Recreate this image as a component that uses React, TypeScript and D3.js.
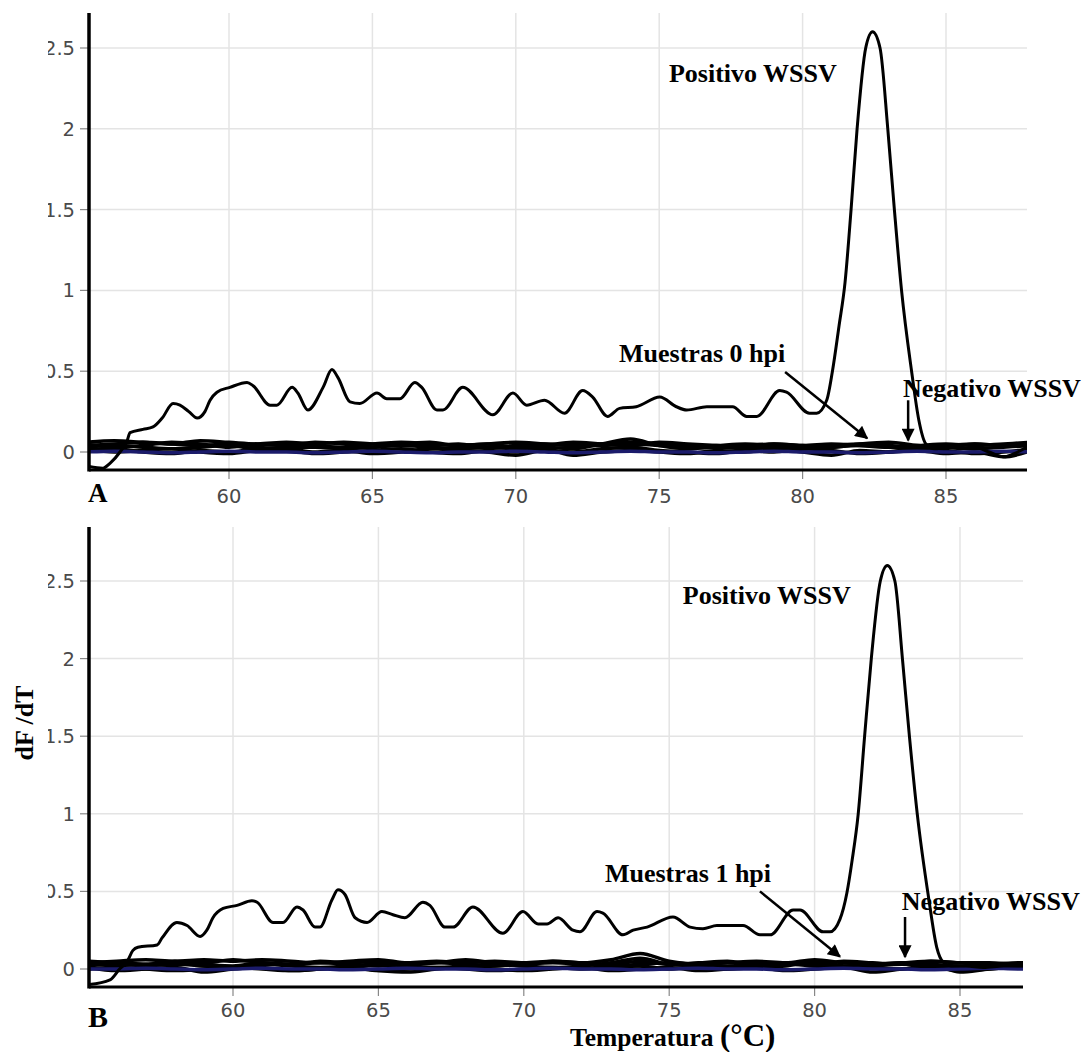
import React from 'react';
import * as d3 from 'd3';

// ---- data -------------------------------------------------------------

const X_TICKS = [60, 65, 70, 75, 80, 85];
const Y_TICKS = [0, 0.5, 1, 1.5, 2, 2.5];
const Y_TICK_LABELS = ['0', '0.5', '1', '1.5', '2', '2.5'];

// temperature grid (°C) for the baseline traces
const TEMP_GRID = [55, 56, 57, 58, 59, 60, 61, 62, 63, 64, 65, 66, 67, 68, 69, 70, 71,
  72, 73, 74, 75, 76, 77, 78, 79, 80, 81, 82, 83, 84, 85, 86, 87, 88];

// Panel A: positive control melt curve
const POS_A_T = [55.12, 55.6, 55.85, 56.2, 56.45, 56.55, 57.0, 57.35, 57.67, 58.05, 58.29, 58.6,
  58.89, 59.16, 59.34, 59.58, 60.03, 60.63, 60.84, 61.43, 61.67, 62.2, 62.4, 62.75, 63.28, 63.59,
  63.8, 64.22, 64.56, 65.16, 65.5, 65.96, 66.48, 66.72, 67.25, 67.46, 68.15, 69.2, 69.9, 70.38,
  71.0, 71.7, 72.33, 72.68, 73.2, 73.62, 74.2, 75.02, 75.6, 75.96, 76.66, 77.56, 78.05, 78.4,
  79.2, 79.44, 80.24, 80.49, 80.84, 81.04, 81.27, 81.48, 81.69, 81.9, 82.2, 82.44,
  82.7, 82.97, 83.2, 83.45, 83.8, 84.05, 84.3, 84.6, 85.0, 85.5, 86.0, 86.5,
  87.0, 87.5, 87.82];
const POS_A_V = [-0.09, -0.1, -0.07, 0.0, 0.07, 0.12, 0.14, 0.155, 0.21, 0.3, 0.29, 0.25,
  0.21, 0.25, 0.32, 0.37, 0.4, 0.43, 0.41, 0.29, 0.29, 0.4, 0.365, 0.26, 0.4, 0.51,
  0.46, 0.31, 0.3, 0.365, 0.33, 0.33, 0.43, 0.4, 0.26, 0.26, 0.4, 0.23, 0.365, 0.29,
  0.32, 0.24, 0.38, 0.34, 0.22, 0.27, 0.28, 0.34, 0.28, 0.26, 0.28, 0.28, 0.22, 0.22,
  0.38, 0.37, 0.24, 0.24, 0.32, 0.5, 0.78, 1.05, 1.5, 2.0, 2.5, 2.6,
  2.5, 2.0, 1.5, 1.0, 0.5, 0.2, 0.05, 0.02, 0.03, 0.02, 0.03, 0.0,
  -0.03, 0.0, 0.03];

// Panel A: 0 hpi samples and negative control
const A_S1 = [0.04, 0.05, 0.06, 0.05, 0.04, 0.05, 0.04, 0.05, 0.04, 0.03, 0.05, 0.04, 0.04, 0.05,
  0.03, 0.04, 0.05, 0.04, 0.04, 0.05, 0.04, 0.03, 0.04, 0.05, 0.04, 0.03, 0.04, 0.05, 0.04, 0.03,
  0.04, 0.05, 0.04, 0.05];
const A_S2 = [0.01, 0.02, 0.0, -0.01, 0.01, 0.0, 0.02, 0.01, -0.01, 0.0, 0.01, 0.02, 0.0, -0.01,
  0.01, 0.0, 0.02, -0.02, 0.0, 0.01, 0.0, -0.01, 0.01, 0.0, 0.02, 0.0, -0.02, 0.01, 0.0, 0.01,
  -0.01, 0.0, -0.03, 0.01];
const A_S3 = [0.03, 0.04, 0.03, 0.02, 0.03, 0.04, 0.02, 0.03, 0.03, 0.02, 0.03, 0.04, 0.03, 0.02,
  0.03, 0.02, 0.03, 0.02, 0.05, 0.08, 0.04, 0.02, 0.03, 0.02, 0.03, 0.02, 0.03, 0.04, 0.03, 0.02,
  0.03, 0.02, 0.03, 0.04];
const A_S4 = [0.06, 0.07, 0.06, 0.05, 0.07, 0.06, 0.05, 0.06, 0.05, 0.06, 0.05, 0.06, 0.05, 0.04,
  0.05, 0.06, 0.05, 0.04, 0.05, 0.06, 0.05, 0.04, 0.03, 0.04, 0.05, 0.04, 0.05, 0.04, 0.03, 0.04,
  0.05, 0.04, 0.05, 0.06];
const A_S5 = [0.05, 0.03, 0.04, 0.06, 0.05, 0.03, 0.05, 0.04, 0.06, 0.05, 0.03, 0.05, 0.06, 0.04,
  0.05, 0.03, 0.04, 0.06, 0.05, 0.04, 0.06, 0.05, 0.04, 0.03, 0.05, 0.04, 0.03, 0.05, 0.06, 0.04,
  0.03, 0.05, 0.04, 0.05];
const A_S6 = [0.02, 0.0, 0.01, 0.02, 0.0, -0.01, 0.01, 0.02, 0.0, 0.01, -0.01, 0.0, 0.02, 0.01,
  0.0, -0.02, 0.01, 0.0, 0.02, 0.03, 0.01, 0.0, -0.01, 0.01, 0.0, 0.02, 0.01, -0.01, 0.0, 0.02,
  0.01, -0.01, 0.0, 0.02];
const A_NEG = [0.0, 0.005, 0.0, -0.005, 0.0, 0.005, 0.0, 0.0, -0.005, 0.0, 0.005, 0.0, -0.005, 0.0,
  0.0, 0.005, 0.0, -0.005, 0.0, 0.005, 0.0, 0.0, -0.005, 0.0, 0.005, 0.0, 0.0, -0.005, 0.0, 0.005,
  0.0, 0.0, 0.005, 0.0];

// Panel B: positive control melt curve
const POS_B_T = [55.05, 55.77, 56.1, 56.35, 56.56, 56.73, 57.39, 57.56, 58.07, 58.42, 58.87, 59.1,
  59.31, 59.66, 60.14, 60.65, 60.83, 61.38, 61.72, 62.2, 62.41, 62.82, 62.99, 63.4, 63.61, 63.85,
  64.2, 64.61, 65.12, 65.5, 65.91, 66.53, 66.77, 67.29, 67.57, 68.25, 69.28, 69.97, 70.49, 70.8,
  71.18, 71.69, 71.93, 72.52, 72.72, 73.41, 73.76, 74.24, 75.13, 75.72, 76.16, 76.64, 77.54, 78.12,
  78.47, 79.26, 79.5, 80.29, 80.53, 80.87, 81.11, 81.29, 81.5, 81.72, 81.95, 82.26, 82.5,
  82.76, 83.02, 83.26, 83.53, 83.92, 84.2, 84.42, 84.7, 85.2, 85.8, 86.5,
  87.17];
const POS_B_V = [-0.1, -0.07, 0.0, 0.045, 0.12, 0.14, 0.155, 0.2, 0.3, 0.28, 0.21, 0.25,
  0.33, 0.39, 0.41, 0.44, 0.43, 0.3, 0.3, 0.4, 0.38, 0.27, 0.27, 0.445, 0.51, 0.48,
  0.33, 0.3, 0.37, 0.35, 0.33, 0.43, 0.41, 0.27, 0.27, 0.4, 0.23, 0.37, 0.29, 0.29,
  0.33, 0.25, 0.24, 0.37, 0.36, 0.22, 0.25, 0.27, 0.335, 0.27, 0.26, 0.28, 0.28, 0.22,
  0.22, 0.38, 0.38, 0.24, 0.24, 0.32, 0.49, 0.7, 1.0, 1.5, 2.0, 2.5, 2.6,
  2.5, 2.0, 1.5, 1.0, 0.46, 0.14, 0.045, 0.02, 0.02, 0.01, 0.02,
  0.02];

// Panel B: 1 hpi samples and negative control
const B_S1 = [0.04, 0.05, 0.06, 0.05, 0.06, 0.05, 0.06, 0.05, 0.04, 0.05, 0.06, 0.04, 0.05, 0.04,
  0.05, 0.04, 0.05, 0.04, 0.06, 0.1, 0.05, 0.03, 0.04, 0.05, 0.04, 0.06, 0.04, 0.03, 0.04, 0.05,
  0.04, 0.04, 0.03, 0.03];
const B_S2 = [0.02, 0.03, 0.02, 0.03, 0.02, 0.01, 0.03, 0.02, 0.01, 0.02, 0.03, 0.02, 0.01, 0.02,
  0.03, 0.02, 0.01, 0.02, 0.04, 0.07, 0.03, 0.02, 0.01, 0.02, 0.03, 0.02, 0.01, 0.02, 0.03, 0.02,
  0.01, 0.02, 0.02, 0.02];
const B_S3 = [0.0, 0.01, 0.0, -0.01, 0.0, 0.01, 0.0, -0.01, 0.0, 0.01, -0.01, 0.0, 0.01, 0.0,
  -0.01, 0.0, 0.01, 0.0, 0.01, 0.02, 0.0, 0.01, 0.0, 0.01, 0.02, 0.05, 0.02, 0.01, 0.0, 0.03,
  -0.02, 0.0, 0.01, 0.0];
const B_S4 = [0.03, 0.04, 0.03, 0.04, 0.03, 0.02, 0.04, 0.03, 0.04, 0.03, 0.02, 0.03, 0.04, 0.03,
  0.02, 0.03, 0.04, 0.03, 0.02, 0.03, 0.04, 0.03, 0.02, 0.03, 0.04, 0.03, 0.02, 0.03, 0.04, 0.03,
  0.02, 0.03, 0.03, 0.03];
const B_S5 = [0.05, 0.04, 0.03, 0.05, 0.04, 0.06, 0.04, 0.03, 0.05, 0.04, 0.05, 0.03, 0.04, 0.06,
  0.04, 0.03, 0.05, 0.04, 0.03, 0.05, 0.03, 0.04, 0.05, 0.03, 0.04, 0.03, 0.05, 0.04, 0.03, 0.05,
  0.04, 0.03, 0.04, 0.04];
const B_S6 = [0.01, -0.01, 0.0, 0.01, -0.02, 0.0, 0.01, -0.01, 0.0, 0.01, -0.01, -0.02, 0.0, 0.01,
  0.0, -0.01, 0.0, 0.01, -0.01, 0.0, 0.01, -0.01, 0.0, 0.01, -0.01, 0.0, 0.01, -0.02, 0.0, 0.01,
  -0.01, 0.0, 0.01, 0.0];
const B_NEG = [0.0, 0.0, 0.005, 0.0, -0.005, 0.0, 0.005, 0.0, 0.0, -0.005, 0.0, 0.005, 0.0, 0.0,
  -0.005, 0.0, 0.005, 0.0, 0.0, -0.005, 0.0, 0.005, 0.0, 0.0, -0.005, 0.0, 0.005, 0.0, 0.0, -0.005,
  0.0, 0.005, 0.0, 0.0];

// ---- styling ----------------------------------------------------------

const SERIF = "'Liberation Serif', 'Times New Roman', serif";
const SANS = "'DejaVu Sans', Verdana, sans-serif";
const GRID = '#e4e4e4';
const NAVY = '#1b1b6b';

type Ann = { text: string; t: number; v: number };
type Arrow = { t1: number; v1: number; t2: number; v2: number };

type PanelCfg = {
  key: string;
  left: number; right: number; top: number; bottom: number;
  x60: number; x85: number; y0: number; y25: number;
  tickBaseline: number;
  letter: string; letterY: number; letterSize: number;
  posT: number[]; posV: number[];
  samples: number[][]; neg: number[];
  labels: Ann[]; arrows: Arrow[];
};

const PANELS: PanelCfg[] = [
  {
    key: 'A', left: 89, right: 1027, top: 13, bottom: 470,
    x60: 229, x85: 946, y0: 452, y25: 48, tickBaseline: 503,
    letter: 'A', letterY: 502, letterSize: 27,
    posT: POS_A_T, posV: POS_A_V,
    samples: [A_S4, A_S5, A_S1, A_S3, A_S6, A_S2], neg: A_NEG,
    labels: [
      { text: 'Positivo WSSV', t: 75.34, v: 2.29 },
      { text: 'Muestras 0 hpi', t: 73.6, v: 0.557 },
      { text: 'Negativo WSSV', t: 83.5, v: 0.34 },
    ],
    arrows: [
      { t1: 79.39, v1: 0.495, t2: 82.25, v2: 0.085 },
      { t1: 83.68, v1: 0.32, t2: 83.68, v2: 0.072 },
    ],
  },
  {
    key: 'B', left: 89, right: 1023, top: 527, bottom: 987,
    x60: 233, x85: 960, y0: 969, y25: 581, tickBaseline: 1017,
    letter: 'B', letterY: 1027, letterSize: 30,
    posT: POS_B_T, posV: POS_B_V,
    samples: [B_S1, B_S5, B_S4, B_S2, B_S6, B_S3], neg: B_NEG,
    labels: [
      { text: 'Positivo WSSV', t: 75.47, v: 2.35 },
      { text: 'Muestras 1 hpi', t: 72.79, v: 0.56 },
      { text: 'Negativo WSSV', t: 83.0, v: 0.38 },
    ],
    arrows: [
      { t1: 78.12, v1: 0.5, t2: 80.87, v2: 0.08 },
      { t1: 83.11, v1: 0.335, t2: 83.11, v2: 0.077 },
    ],
  },
];

function Panel({ cfg }: { cfg: PanelCfg }) {
  const x = d3.scaleLinear().domain([60, 85]).range([cfg.x60, cfg.x85]);
  const y = d3.scaleLinear().domain([0, 2.5]).range([cfg.y0, cfg.y25]);
  const line = d3.line<[number, number]>()
    .x((d) => x(d[0]))
    .y((d) => y(d[1]))
    .curve(d3.curveMonotoneX);

  const posPts: [number, number][] = cfg.posT.map((t, i) => [t, cfg.posV[i]]);
  const clipId = `plot-clip-${cfg.key}`;
  const labelClipId = `label-clip-${cfg.key}`;

  return (
    <g>
      <defs>
        <clipPath id={clipId}>
          <rect x={cfg.left} y={cfg.top} width={cfg.right - cfg.left} height={cfg.bottom - cfg.top} />
        </clipPath>
        <clipPath id={labelClipId}>
          <rect x={48} y={cfg.top - 20} width={cfg.left - 48} height={cfg.bottom - cfg.top + 40} />
        </clipPath>
      </defs>

      {/* grid */}
      {X_TICKS.map((t) => (
        <line key={`gx${t}`} x1={x(t)} x2={x(t)} y1={cfg.top} y2={cfg.bottom}
          stroke={GRID} strokeWidth={1.5} />
      ))}
      {Y_TICKS.filter((v) => v > 0).map((v) => (
        <line key={`gy${v}`} x1={cfg.left} x2={cfg.right} y1={y(v)} y2={y(v)}
          stroke={GRID} strokeWidth={1.5} />
      ))}

      {/* ticks */}
      {X_TICKS.map((t) => (
        <line key={`tx${t}`} x1={x(t)} x2={x(t)} y1={cfg.bottom} y2={cfg.bottom + 9}
          stroke="#888" strokeWidth={1.2} />
      ))}
      {Y_TICKS.map((v) => (
        <line key={`ty${v}`} x1={cfg.left - 9} x2={cfg.left} y1={y(v)} y2={y(v)}
          stroke="#888" strokeWidth={1.2} />
      ))}

      {/* tick labels */}
      <g fontFamily={SANS} fontSize={19.5} fill="#4a4a4a">
        {X_TICKS.map((t) => (
          <text key={`lx${t}`} x={x(t)} y={cfg.tickBaseline} textAnchor="middle">{t}</text>
        ))}
        <g clipPath={`url(#${labelClipId})`}>
          {Y_TICKS.map((v, i) => (
            <text key={`ly${v}`} x={75} y={y(v) + 7} textAnchor="end">{Y_TICK_LABELS[i]}</text>
          ))}
        </g>
      </g>

      {/* traces */}
      <g clipPath={`url(#${clipId})`} fill="none" strokeLinejoin="round">
        {cfg.samples.map((s, i) => (
          <path key={`s${i}`} d={line(TEMP_GRID.map((t, j) => [t, s[j]] as [number, number])) || ''}
            stroke="#000" strokeWidth={3.5} />
        ))}
        <path d={line(TEMP_GRID.map((t, j) => [t, cfg.neg[j]] as [number, number])) || ''}
          stroke={NAVY} strokeWidth={3.5} />
        <path d={line(posPts) || ''} stroke="#000" strokeWidth={3} />
      </g>

      {/* axes */}
      <line x1={cfg.left} x2={cfg.left} y1={cfg.top} y2={cfg.bottom + 1.5} stroke="#000" strokeWidth={3.5} />
      <line x1={cfg.left} x2={cfg.right} y1={cfg.bottom} y2={cfg.bottom} stroke="#000" strokeWidth={3} />

      {/* annotations */}
      <g fontFamily={SERIF} fontWeight="bold" fontSize={26} fill="#000">
        {cfg.labels.map((a) => (
          <text key={a.text} x={x(a.t)} y={y(a.v)}>{a.text}</text>
        ))}
      </g>
      {cfg.arrows.map((a, i) => (
        <line key={`ar${i}`} x1={x(a.t1)} y1={y(a.v1)} x2={x(a.t2)} y2={y(a.v2)}
          stroke="#000" strokeWidth={2.5} markerEnd="url(#arrowhead)" />
      ))}

      <text x={88} y={cfg.letterY} fontFamily={SERIF} fontWeight="bold" fontSize={cfg.letterSize}>
        {cfg.letter}
      </text>
    </g>
  );
}

export default function App() {
  return (
    <svg width={1089} height={1052} viewBox="0 0 1089 1052"
      style={{ position: 'absolute', left: 0, top: 0, background: '#fff', display: 'block' }}>
      <defs>
        <marker id="arrowhead" viewBox="0 0 10 10" refX={9} refY={5}
          markerUnits="userSpaceOnUse" markerWidth={17} markerHeight={13} orient="auto">
          <path d="M0,0 L10,5 L0,10 z" fill="#000" />
        </marker>
      </defs>
      <rect x={0} y={0} width={1089} height={1052} fill="#fff" />
      {PANELS.map((p) => <Panel key={p.key} cfg={p} />)}

      <text x={33} y={723} transform="rotate(-90 33 723)" textAnchor="middle"
        fontFamily={SERIF} fontWeight="bold" fontSize={26}>dF /dT</text>
      <text x={570} y={1046} fontFamily={SERIF} fontWeight="bold" fontSize={25.5}>
        Temperatura <tspan fontSize={31}>(°C)</tspan>
      </text>
    </svg>
  );
}
